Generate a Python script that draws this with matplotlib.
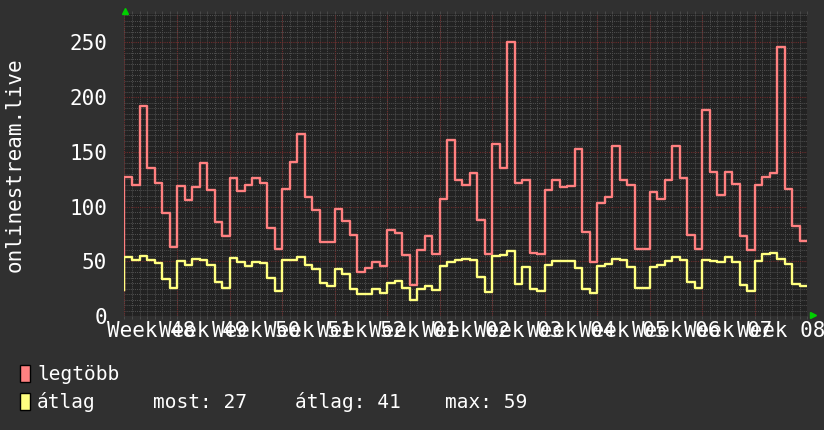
import numpy as np
import matplotlib
matplotlib.use("Agg")
import matplotlib.pyplot as plt
from matplotlib.patches import Rectangle
import matplotlib.transforms as mtransforms

# ---------------- data (daily values, 13 weeks) ----------------
week_labels = ["Week 48", "Week 49", "Week 50", "Week 51", "Week 52", "Week 01",
               "Week 02", "Week 03", "Week 04", "Week 05", "Week 06", "Week 07", "Week 08"]

legtobb = [127, 120, 192, 135, 122, 94, 63,
           119, 106, 118, 140, 115, 86, 73,
           126, 114, 120, 126, 122, 80, 61,
           116, 141, 166, 109, 97, 68, 68,
           98, 87, 74, 40, 44, 49, 46,
           79, 76, 56, 28, 60, 73, 57,
           107, 161, 124, 120, 131, 88, 57,
           157, 135, 250, 122, 124, 58, 57,
           115, 124, 118, 119, 153, 77, 49,
           103, 109, 155, 124, 120, 61, 61,
           113, 107, 124, 155, 126, 74, 61,
           188, 132, 111, 132, 121, 73, 60,
           120, 127, 131, 246, 116, 82, 69]

atlag = [54, 51, 55, 51, 48, 33.5, 26,
         50, 47, 52, 51, 47, 31, 26,
         53, 49, 46, 49, 48, 35, 23,
         51, 51, 54, 47, 43, 30.5, 27.5,
         43, 38.5, 24.5, 20, 20, 25, 21,
         30.5, 32, 26, 15, 25, 27, 24,
         46, 49, 51, 52, 51, 36, 22,
         55, 56, 59, 29, 45, 24.5, 23,
         47, 50, 50.5, 50, 44, 24.5, 21,
         46, 47.5, 52, 51, 44.5, 26, 26,
         44.5, 46.5, 50.5, 54, 51, 31.5, 26,
         51, 50, 49, 54, 49, 28.5, 23,
         50.5, 56.5, 58, 52.5, 47.5, 29, 27]

legtobb_start = 24
atlag_start = 24

y_ticks = [0, 50, 100, 150, 200, 250]
y_max = 276

legend_names = ["legtöbb", "átlag"]
stats_texts = ["most: 27", "átlag: 41", "max: 59"]

# ---------------- styling ----------------
W, H = 824, 430
BG = "#303030"
PLOT_BG = "#222222"
MINOR = "#4e4e4e"
MAJOR = "#6e2c2c"
RED = "#ff8080"
YEL = "#ffff80"
MONO = "DejaVu Sans Mono"
LEGFONT = ["Liberation Sans Narrow", "DejaVu Sans Mono"]

fig = plt.figure(figsize=(W / 100, H / 100), dpi=100)
fig.patch.set_facecolor(BG)

left, right, top, bottom = 124.5, 807, 14, 316
ax = fig.add_axes([left / W, 1 - bottom / H, (right - left) / W, (bottom - top) / H])
ax.set_facecolor(PLOT_BG)

n_days = len(legtobb)
n_weeks = len(week_labels)
days = np.arange(n_days + 1)

ax.set_xlim(0, n_days)
ax.set_ylim(0, y_max)

# ticks and grid
week_mid = np.arange(n_weeks) * 7 + 3.5
ax.set_xticks(week_mid, labels=week_labels)
ax.set_xticks(np.arange(0, n_days + 1), minor=True)
ax.set_yticks(y_ticks, labels=[str(v) for v in y_ticks])
ax.set_yticks(np.arange(0, y_max + 1, 5), minor=True)

dots = (0, (1, 1))
ax.xaxis.grid(False, which="major")
ax.xaxis.grid(True, which="minor", color=MINOR, linestyle=dots, linewidth=0.75)
ax.yaxis.grid(True, which="minor", color=MINOR, linestyle=dots, linewidth=0.75)
ax.yaxis.grid(True, which="major", color=MAJOR, linestyle=dots, linewidth=0.8)
ax.vlines(np.arange(0, n_weeks + 1) * 7, 0, y_max, colors=MAJOR,
          linestyles=[dots], linewidth=0.8, zorder=1.6)

ax.tick_params(axis="x", which="major", length=0, pad=3.5, labelsize=15,
               labelcolor="white")
ax.tick_params(axis="x", which="minor", length=2, color=MINOR, top=True, bottom=True)
ax.tick_params(axis="y", which="major", length=0, pad=12.5, labelsize=15,
               labelcolor="white")
ax.tick_params(axis="y", which="minor", length=0)
for lab in ax.get_xticklabels() + ax.get_yticklabels():
    lab.set_fontfamily(MONO)

for s in ax.spines.values():
    s.set_visible(False)

# data lines (step)
def step_xy(vals, start):
    x = np.concatenate([[0], days])
    y = np.concatenate([[start], vals, [vals[-1]]])
    return x, y

xr, yr = step_xy(np.array(legtobb, float), legtobb_start)
ax.step(xr, yr, where="post", color=RED, linewidth=1.7, zorder=3)
xy, yy = step_xy(np.array(atlag, float), atlag_start)
ax.step(xy, yy, where="post", color=YEL, linewidth=1.7, zorder=3)

# axis label
ax.set_ylabel("onlinestream.live", fontsize=15, color="white", family=MONO)
ax.yaxis.set_label_coords((25 - left) / (right - left), 0.5)

# green arrows
up_tr = mtransforms.offset_copy(ax.transAxes, fig=fig, x=0.5, y=3, units="dots")
ax.plot([0], [1], marker="^", color="#00d000", markersize=5, transform=up_tr,
        clip_on=False, zorder=5)
rt_tr = mtransforms.offset_copy(ax.transAxes, fig=fig, x=6, y=1, units="dots")
ax.plot([1], [0], marker=">", color="#00d000", markersize=5, transform=rt_tr,
        clip_on=False, zorder=5)

# legend area
def fx(px):
    return px / W

def fy(py):
    return 1 - py / H

for (name, col, y0, y1, base) in [(legend_names[0], RED, 365, 382, 380),
                                  (legend_names[1], YEL, 393, 409.5, 408)]:
    fig.patches.append(Rectangle((fx(20), fy(y1)), 10 / W, (y1 - y0) / H,
                                 transform=fig.transFigure, facecolor=col,
                                 edgecolor="black", linewidth=1))
    fig.text(fx(37), fy(base), name, color="white", fontsize=14,
             family=LEGFONT, va="baseline", ha="left")

for txt, px in zip(stats_texts, [153, 295, 445]):
    fig.text(fx(px), fy(408), txt, color="white", fontsize=14, family=LEGFONT,
             va="baseline", ha="left")

fig.savefig("out.png", dpi=100, facecolor=BG)
